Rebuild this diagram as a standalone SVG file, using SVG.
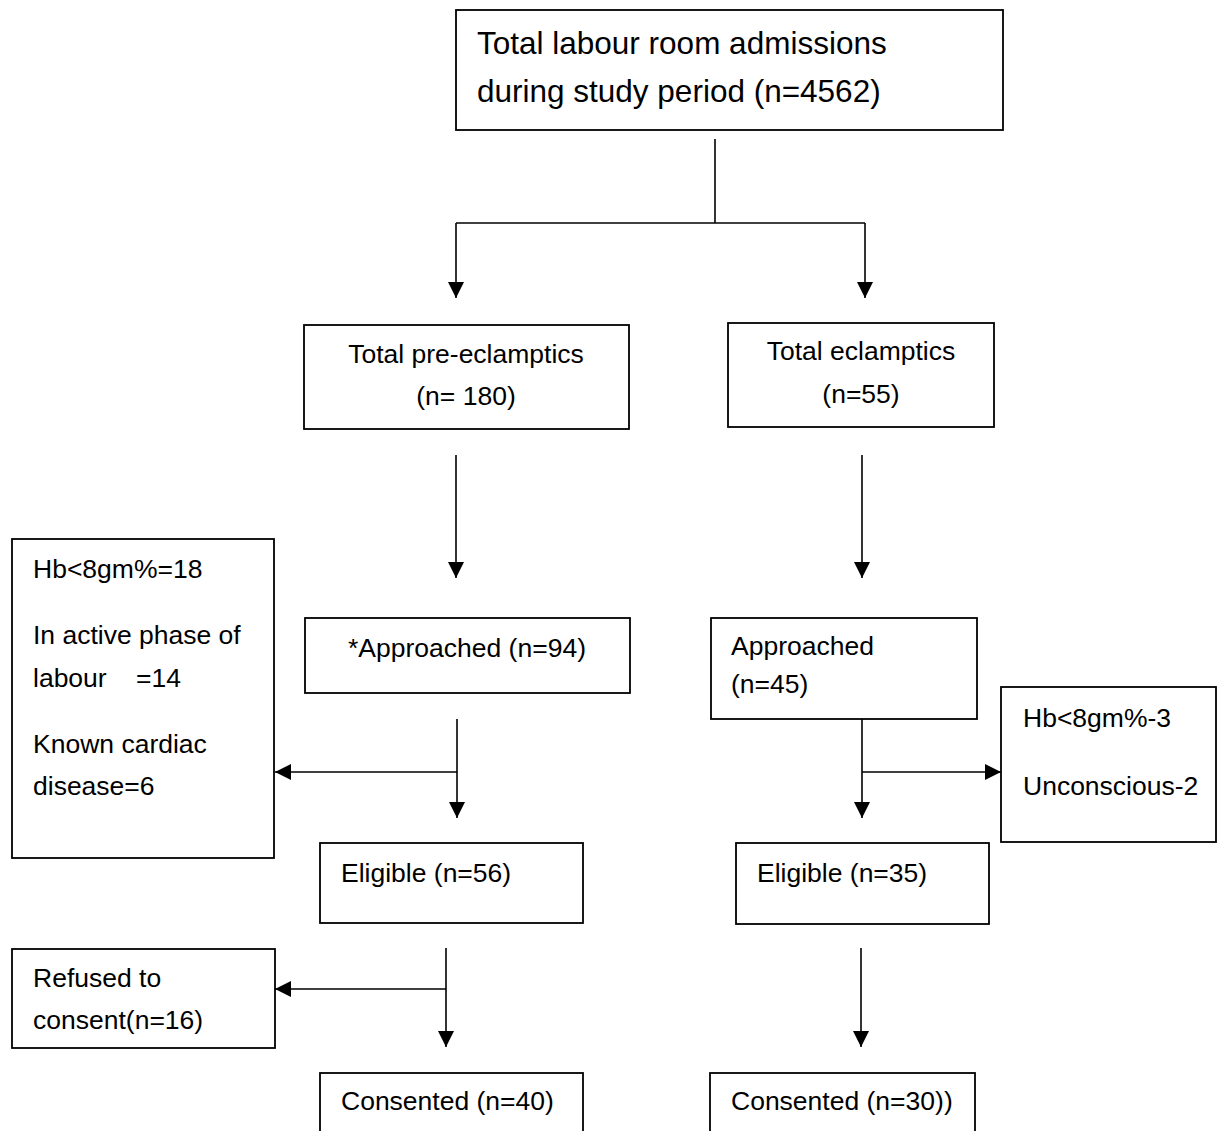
<svg xmlns="http://www.w3.org/2000/svg" width="1217" height="1131" viewBox="0 0 1217 1131">
<style>
  .box { fill: #fff; stroke: #000; stroke-width: 1.8; }
  .t { font-family: "Liberation Sans", Arial, sans-serif; font-size: 26.5px; fill: #000; }
  .big { font-size: 31.5px; }
  .c { text-anchor: middle; }
  .ln { fill: none; stroke: #000; stroke-width: 1.6; }
</style>
<defs>
  <marker id="ah" markerUnits="userSpaceOnUse" markerWidth="17" markerHeight="17" refX="16" refY="8" orient="auto">
    <path d="M0,0 L16,8 L0,16 Z" fill="#000"/>
  </marker>
</defs>
<rect width="1217" height="1131" fill="#fff"/>

<g id="connectors">
  <path class="ln" d="M715,139 V223"/>
  <path class="ln" d="M456,223 H865"/>
  <path class="ln" d="M456,223 V298" marker-end="url(#ah)"/>
  <path class="ln" d="M865,223 V298" marker-end="url(#ah)"/>
  <path class="ln" d="M456,455 V578" marker-end="url(#ah)"/>
  <path class="ln" d="M862,455 V578" marker-end="url(#ah)"/>
  <path class="ln" d="M457,719 V818" marker-end="url(#ah)"/>
  <path class="ln" d="M457,772 H275" marker-end="url(#ah)"/>
  <path class="ln" d="M862,719 V818" marker-end="url(#ah)"/>
  <path class="ln" d="M862,772 H1001" marker-end="url(#ah)"/>
  <path class="ln" d="M446,948 V1047" marker-end="url(#ah)"/>
  <path class="ln" d="M446,989 H275" marker-end="url(#ah)"/>
  <path class="ln" d="M861,948 V1047" marker-end="url(#ah)"/>
</g>

<g id="total">
  <rect class="box" x="456" y="10" width="547" height="120"/>
  <text class="t big" x="477" y="54">Total labour room admissions</text>
  <text class="t big" x="477" y="102">during study period (n=4562)</text>
</g>

<g id="pre-eclamptics">
  <rect class="box" x="304" y="325" width="325" height="104"/>
  <text class="t c" x="466" y="363">Total pre-eclamptics</text>
  <text class="t c" x="466" y="405">(n= 180)</text>
</g>

<g id="eclamptics">
  <rect class="box" x="728" y="323" width="266" height="104"/>
  <text class="t c" x="861" y="360">Total eclamptics</text>
  <text class="t c" x="861" y="403">(n=55)</text>
</g>

<g id="excluded-left">
  <rect class="box" x="12" y="539" width="262" height="319"/>
  <text class="t" x="33" y="578">Hb&lt;8gm%=18</text>
  <text class="t" x="33" y="644">In active phase of</text>
  <text class="t" x="33" y="687" xml:space="preserve">labour    =14</text>
  <text class="t" x="33" y="753">Known cardiac</text>
  <text class="t" x="33" y="795">disease=6</text>
</g>

<g id="approached-pre">
  <rect class="box" x="305" y="618" width="325" height="75"/>
  <text class="t c" x="467" y="657">*Approached (n=94)</text>
</g>

<g id="approached-ecl">
  <rect class="box" x="711" y="618" width="266" height="101"/>
  <text class="t" x="731" y="655">Approached</text>
  <text class="t" x="731" y="693">(n=45)</text>
</g>

<g id="excluded-right">
  <rect class="box" x="1001" y="687" width="215" height="155"/>
  <text class="t" x="1023" y="727">Hb&lt;8gm%-3</text>
  <text class="t" x="1023" y="795">Unconscious-2</text>
</g>

<g id="eligible-pre">
  <rect class="box" x="320" y="843" width="263" height="80"/>
  <text class="t" x="341" y="882">Eligible (n=56)</text>
</g>

<g id="eligible-ecl">
  <rect class="box" x="736" y="843" width="253" height="81"/>
  <text class="t" x="757" y="882">Eligible (n=35)</text>
</g>

<g id="refused">
  <rect class="box" x="12" y="949" width="263" height="99"/>
  <text class="t" x="33" y="987">Refused to</text>
  <text class="t" x="33" y="1029">consent(n=16)</text>
</g>

<g id="consented-pre">
  <rect class="box" x="320" y="1073" width="263" height="70"/>
  <text class="t" x="341" y="1110">Consented (n=40)</text>
</g>

<g id="consented-ecl">
  <rect class="box" x="710" y="1073" width="265" height="70"/>
  <text class="t" x="731" y="1110">Consented (n=30))</text>
</g>
</svg>
